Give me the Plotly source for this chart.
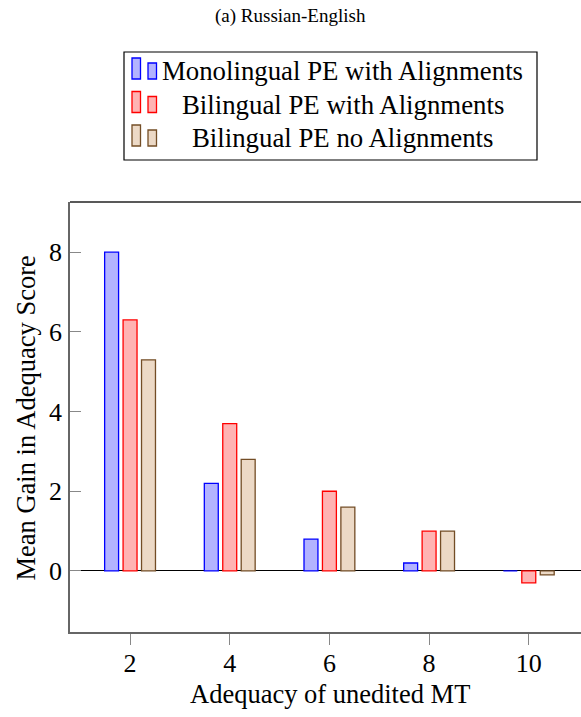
import plotly.graph_objects as go

# ---- data ----
categories = [2, 4, 6, 8, 10]
series_names = ["Monolingual PE with Alignments",
                "Bilingual PE with Alignments",
                "Bilingual PE no Alignments"]
mono_with_align = [8.0, 2.2, 0.8, 0.2, 0.0]
bi_with_align = [6.3, 3.7, 2.0, 1.0, -0.3]
bi_no_align = [5.3, 2.8, 1.6, 1.0, -0.1]
x_tick_vals = [2, 4, 6, 8, 10]
y_tick_vals = [0, 2, 4, 6, 8]
title_text = "(a) Russian-English"
x_title = "Adequacy of unedited MT"
y_title = "Mean Gain in Adequacy Score"

series_values = [mono_with_align, bi_with_align, bi_no_align]
fills = ["#b3b3ff", "#ffb3b3", "#ecd9c6"]
edges = ["#0000ff", "#ff0000", "#734d26"]
offsets = [-0.51, -0.14, 0.23]
bar_w = 0.28

FONT = "Liberation Serif"
W, H = 581, 717
ML, MR, MT, MB = 70, 0, 202, 85
PW = W - ML - MR
PH = H - MT - MB


def px(xp):
    return (xp - ML) / PW


def py(yp):
    return (H - MB - yp) / PH


fig = go.Figure()
for name, vals, fc, ec, off in zip(series_names, series_values, fills, edges, offsets):
    fig.add_trace(go.Bar(
        x=categories, y=vals, name=name,
        width=bar_w, offset=off,
        marker=dict(color=fc, line=dict(color=ec, width=1.3)),
        showlegend=False,
    ))

# ---- custom legend (pgfplots style) ----
shapes = []
annotations = []
shapes.append(dict(type="rect", xref="paper", yref="paper",
                   x0=px(124), x1=px(537), y0=py(160), y1=py(52),
                   line=dict(color="black", width=1.2), fillcolor="white"))
row_bottoms = [79, 112.5, 146]
for i, (name, fc, ec) in enumerate(zip(series_names, fills, edges)):
    b = row_bottoms[i]
    shapes.append(dict(type="rect", xref="paper", yref="paper",
                       x0=px(132), x1=px(140.5), y0=py(b), y1=py(b - 21),
                       line=dict(color=ec, width=1.3), fillcolor=fc))
    shapes.append(dict(type="rect", xref="paper", yref="paper",
                       x0=px(148), x1=px(156.5), y0=py(b), y1=py(b - 16),
                       line=dict(color=ec, width=1.3), fillcolor=fc))
    annotations.append(dict(text=name, xref="paper", yref="paper",
                            x=px(342.5), y=py(b - 8), xanchor="center", yanchor="middle",
                            showarrow=False, font=dict(family=FONT, size=26.8, color="black")))

# top border of axis box
shapes.append(dict(type="line", xref="paper", yref="paper", x0=0, x1=1, y0=1, y1=1,
                   line=dict(color="#222222", width=1.3)))

annotations.append(dict(text=title_text, xref="paper", yref="paper",
                        x=px(290.5), y=py(16), xanchor="center", yanchor="middle",
                        showarrow=False, font=dict(family=FONT, size=19, color="black")))
annotations.append(dict(text=x_title, xref="paper", yref="paper",
                        x=px(330), y=py(694), xanchor="center", yanchor="middle",
                        showarrow=False, font=dict(family=FONT, size=26.5, color="black")))
annotations.append(dict(text=y_title, xref="paper", yref="paper",
                        x=px(25), y=py(418.5), xanchor="center", yanchor="middle",
                        textangle=-90,
                        showarrow=False, font=dict(family=FONT, size=26.5, color="black")))

fig.update_layout(
    width=W, height=H,
    margin=dict(l=ML, r=MR, t=MT, b=MB, pad=0),
    paper_bgcolor="white", plot_bgcolor="white",
    shapes=shapes, annotations=annotations,
    showlegend=False,
    font=dict(family=FONT, color="black"),
)
fig.update_xaxes(
    range=[0.795, 0.795 + PW / 49.84],
    tickvals=x_tick_vals, ticktext=[str(v) for v in x_tick_vals],
    ticks="outside", ticklen=11, tickwidth=1.2, tickcolor="#888888",
    showline=True, linecolor="#666666", linewidth=1.6,
    showgrid=False, zeroline=False,
    tickfont=dict(family=FONT, size=26, color="black"),
    ticklabelstandoff=-4,
)
fig.update_yaxes(
    range=[-1.532, 9.26],
    tickvals=y_tick_vals, ticktext=[str(v) for v in y_tick_vals],
    ticks="inside", ticklen=11, tickwidth=1.2, tickcolor="#888888",
    showline=True, linecolor="#666666", linewidth=1.6,
    showgrid=False, zeroline=True, zerolinecolor="black", zerolinewidth=1.3,
    tickfont=dict(family=FONT, size=26, color="black"),
    ticklabelstandoff=1,
)

fig.write_html("out.html", config={"displayModeBar": False},
               post_script="document.body.style.margin='0px';")
